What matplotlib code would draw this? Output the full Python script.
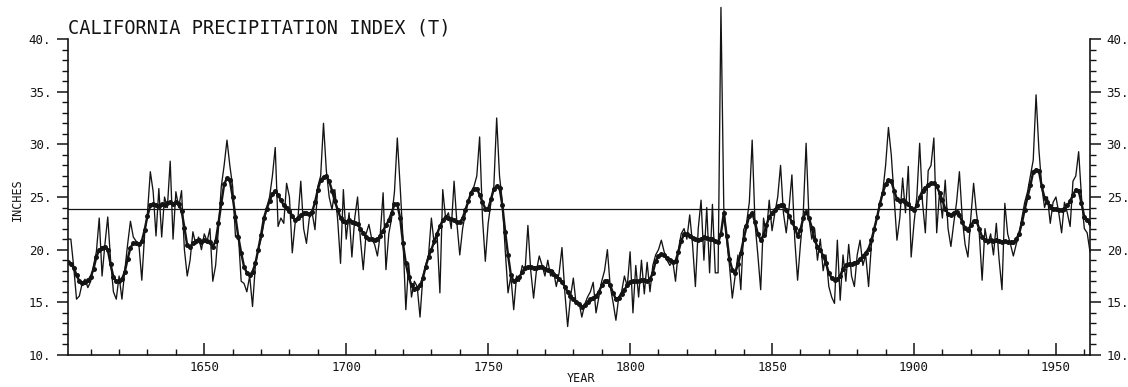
import matplotlib
matplotlib.use("Agg")
import matplotlib.pyplot as plt
from matplotlib.ticker import MultipleLocator

# ---------------- data ----------------
first_year = 1602
last_year = 1962
years = list(range(first_year, last_year + 1))

# annual index (thin line), inches
annual = [
    21.0, 21.0, 18.4, 15.3, 15.6, 16.8, 17.2, 16.4,            # 1602-1609
    17.0, 18.5, 19.8, 23.0, 17.5, 20.5, 23.1, 19.0, 16.0, 15.3,  # 1610-1619
    17.5, 15.3, 18.0, 20.5, 22.7, 21.2, 20.8, 20.4, 17.1, 21.5,  # 1620-1629
    23.5, 27.4, 25.5, 21.3, 25.8, 21.2, 25.0, 24.0, 28.4, 21.0,  # 1630-1639
    25.5, 24.0, 25.6, 20.0, 17.5, 19.0, 21.7, 20.5, 21.2, 20.0,  # 1640-1649
    21.5, 20.8, 22.0, 17.0, 18.5, 22.0, 26.0, 28.0, 30.4, 28.0,  # 1650-1659
    26.0, 21.2, 21.5, 17.0, 16.8, 16.0, 17.5, 14.6, 18.5, 20.0,  # 1660-1669
    21.0, 22.5, 24.0, 25.0, 27.0, 29.7, 22.2, 23.0, 22.5, 26.3,  # 1670-1679
    25.0, 19.7, 22.5, 23.0, 26.5, 22.0, 20.6, 23.0, 23.5, 21.9,  # 1680-1689
    26.0, 27.0, 32.0, 27.5, 25.0, 23.8, 25.7, 22.8, 18.7, 25.7,  # 1690-1699
    21.0, 23.5, 19.3, 23.0, 25.0, 21.0, 18.1, 21.5, 22.4, 21.0,  # 1700-1709
    20.5, 19.4, 21.5, 25.4, 18.1, 21.5, 23.0, 25.5, 30.6, 26.0,  # 1710-1719
    21.0, 14.3, 18.7, 15.5, 17.0, 16.5, 13.6, 17.5, 18.5, 19.5,  # 1720-1729
    23.0, 20.5, 21.5, 15.9, 25.7, 23.0, 23.5, 22.0, 26.5, 22.5,  # 1730-1739
    19.5, 22.0, 23.5, 24.5, 25.5, 26.0, 27.0, 30.7, 23.0, 18.9,  # 1740-1749
    22.5, 24.5, 26.0, 32.5, 27.0, 24.5, 20.0, 15.9, 17.5, 14.3,  # 1750-1759
    17.5, 17.0, 18.5, 18.0, 22.3, 18.0, 15.4, 18.0, 19.4, 18.5,  # 1760-1769
    17.5, 19.0, 17.5, 18.0, 16.5, 17.8, 20.2, 16.0, 12.7, 15.5,  # 1770-1779
    17.3, 14.8, 15.0, 13.6, 14.8, 15.5, 16.0, 16.9, 14.0, 15.5,  # 1780-1789
    17.0, 18.0, 20.0, 16.5, 15.0, 13.3, 15.5, 16.0, 17.5, 16.5,  # 1790-1799
    19.8, 14.0, 18.5, 15.5, 19.0, 15.8, 18.8, 16.0, 18.5, 19.5,  # 1800-1809
    20.0, 20.9, 19.8, 19.0, 18.5, 19.0, 17.0, 20.0, 21.5, 22.0,  # 1810-1819
    21.0, 23.3, 20.5, 16.5, 22.0, 24.7, 19.0, 24.0, 17.8, 24.3,  # 1820-1829
    17.8, 17.8, 43.0, 24.0, 21.0, 18.5, 15.4, 17.5, 19.5, 16.2,  # 1830-1839
    21.9, 22.5, 24.5, 30.4, 22.5, 19.5, 16.2, 23.0, 21.5, 24.7,  # 1840-1849
    21.8, 23.5, 25.0, 28.0, 23.5, 21.6, 24.0, 27.1, 21.0, 17.1,  # 1850-1859
    20.5, 23.5, 30.1, 23.0, 21.0, 22.0, 19.0, 21.0, 18.0, 19.5,  # 1860-1869
    16.5, 15.5, 14.9, 20.9, 15.2, 19.5, 17.0, 20.5, 17.5, 16.5,  # 1870-1879
    19.5, 20.9, 18.5, 19.5, 16.5, 20.5, 21.8, 23.0, 24.5, 25.5,  # 1880-1889
    28.0, 31.6, 29.0, 25.0, 20.9, 23.0, 26.8, 23.5, 27.9, 19.3,  # 1890-1899
    22.5, 25.0, 30.1, 24.5, 21.6, 27.5, 28.0, 30.6, 21.6, 25.5,  # 1900-1909
    23.0, 26.6, 22.0, 20.3, 22.5, 24.5, 27.4, 23.0, 20.5, 19.3,  # 1910-1919
    23.0, 26.3, 23.5, 21.5, 17.1, 22.0, 20.5, 21.5, 19.5, 22.5,  # 1920-1929
    19.0, 16.2, 24.4, 21.5, 20.5, 19.4, 20.5, 21.5, 23.0, 24.5,  # 1930-1939
    25.5, 27.0, 28.5, 34.7, 29.5, 26.0, 24.0, 25.0, 22.5, 24.5,  # 1940-1949
    25.0, 23.5, 21.6, 24.5, 23.5, 22.2, 26.5, 27.0, 29.3, 25.0,  # 1950-1959
    22.0, 21.6, 19.8,                                            # 1960-1962
]

# smoothed index (dotted heavy line), inches
smoothed = [
    18.8, 18.6, 18.3, 17.6, 17.0, 16.8, 16.9, 17.1,            # 1602-1609
    17.4, 18.2, 19.3, 20.0, 20.2, 20.3, 20.0, 18.6, 17.4, 17.0,  # 1610-1619
    17.0, 17.2, 17.9, 19.1, 20.2, 20.6, 20.6, 20.5, 20.8, 21.9,  # 1620-1629
    23.2, 24.2, 24.3, 24.2, 24.1, 24.3, 24.2, 24.4, 24.5, 24.3,  # 1630-1639
    24.5, 24.3, 23.7, 22.1, 20.4, 20.3, 20.6, 20.8, 20.9, 20.7,  # 1640-1649
    20.9, 20.8, 20.7, 20.3, 20.8, 22.5, 24.4, 26.2, 26.8, 26.6,  # 1650-1659
    25.0, 23.1, 21.2, 19.7, 18.4, 17.8, 17.6, 17.9, 18.7, 20.0,  # 1660-1669
    21.4, 23.0, 23.9, 24.6, 25.3, 25.6, 25.2, 24.7, 24.2, 24.0,  # 1670-1679
    23.7, 23.2, 22.8, 23.0, 23.3, 23.5, 23.5, 23.4, 23.6, 24.5,  # 1680-1689
    25.7, 26.6, 26.9, 27.0, 26.5, 25.6, 24.6, 23.8, 23.0, 22.7,  # 1690-1699
    22.6, 22.8, 22.6, 22.5, 22.4, 22.0, 21.6, 21.2, 21.0, 21.0,  # 1700-1709
    20.9, 21.0, 21.3, 21.8, 22.3, 22.8, 23.5, 24.3, 24.3, 23.0,  # 1710-1719
    20.6, 18.7, 17.4, 16.6, 16.3, 16.4, 16.6, 17.3, 18.4, 19.3,  # 1720-1729
    20.0, 20.8, 21.5, 22.2, 22.8, 23.1, 23.0, 22.9, 22.8, 22.6,  # 1730-1739
    22.6, 23.0, 23.8, 24.6, 25.4, 25.8, 25.8, 25.2, 24.5, 23.9,  # 1740-1749
    23.9, 24.8, 25.8, 26.0, 25.9, 24.2, 21.7, 19.5, 17.6, 17.0,  # 1750-1759
    17.2, 17.4, 17.9, 18.3, 18.4, 18.4, 18.3, 18.3, 18.4, 18.4,  # 1760-1769
    18.2, 18.1, 18.0, 17.7, 17.5, 17.2, 16.9, 16.5, 16.0, 15.6,  # 1770-1779
    15.3, 15.0, 14.8, 14.6, 14.7, 15.0, 15.3, 15.4, 15.6, 16.0,  # 1780-1789
    16.6, 17.0, 17.0, 16.6, 15.9, 15.3, 15.4, 15.8, 16.2, 16.6,  # 1790-1799
    16.9, 17.0, 17.0, 17.0, 17.1, 17.1, 17.0, 17.2, 17.8, 18.9,  # 1800-1809
    19.4, 19.6, 19.5, 19.2, 19.0, 18.8, 18.9, 19.8, 20.8, 21.5,  # 1810-1819
    21.5, 21.3, 21.1, 21.0, 20.9, 21.0, 21.2, 21.1, 21.0, 21.0,  # 1820-1829
    20.8, 20.7, 21.5, 23.5, 21.3, 19.1, 18.1, 17.8, 18.6, 19.7,  # 1830-1839
    21.0, 22.2, 23.2, 23.5, 22.6, 21.5, 20.9, 21.4, 22.3, 23.1,  # 1840-1849
    23.5, 23.8, 24.1, 24.2, 24.2, 23.8, 23.2, 22.6, 22.1, 21.3,  # 1850-1859
    21.9, 23.0, 23.6, 23.0, 22.1, 20.9, 20.3, 20.0, 19.4, 18.7,  # 1860-1869
    17.8, 17.3, 17.1, 17.2, 17.5, 18.2, 18.5, 18.6, 18.6, 18.7,  # 1870-1879
    18.8, 19.1, 19.4, 19.7, 20.1, 20.9, 22.0, 23.1, 24.3, 25.4,  # 1880-1889
    26.2, 26.6, 26.5, 25.6, 24.8, 24.6, 24.7, 24.5, 24.3, 24.0,  # 1890-1899
    23.8, 24.2, 25.0, 25.6, 25.9, 26.1, 26.3, 26.3, 26.0, 25.4,  # 1900-1909
    24.7, 23.9, 23.4, 23.3, 23.5, 23.6, 23.3, 22.6, 22.1, 21.9,  # 1910-1919
    22.3, 22.7, 22.7, 22.0, 21.2, 20.9, 20.8, 20.9, 20.8, 20.9,  # 1920-1929
    20.8, 20.7, 20.8, 20.7, 20.7, 20.7, 21.0, 21.5, 22.5, 23.8,  # 1930-1939
    25.0, 26.1, 27.4, 27.6, 27.5, 26.0, 24.9, 24.5, 24.1, 23.9,  # 1940-1949
    23.9, 23.8, 23.8, 23.9, 24.2, 24.6, 25.2, 25.7, 25.6, 24.4,  # 1950-1959
    23.1, 22.8, 22.5,                                            # 1960-1962
]

mean_level = 23.85

y_ticks = [10, 15, 20, 25, 30, 35, 40]
y_tick_labels = ["10.", "15.", "20.", "25.", "30.", "35.", "40."]
x_ticks = [1650, 1700, 1750, 1800, 1850, 1900, 1950]
x_tick_labels = ["1650", "1700", "1750", "1800", "1850", "1900", "1950"]

title = "CALIFORNIA PRECIPITATION INDEX (T)"
y_label = "INCHES"
x_label = "YEAR"

# ---------------- figure ----------------
FONT = "DejaVu Sans Mono"
ink = "#141414"

fig = plt.figure(figsize=(11.28, 3.87), dpi=100)
ax = fig.add_axes([68 / 1128, 1 - 355 / 387, (1090 - 68) / 1128, (355 - 39) / 387])

ax.plot(years, annual, color=ink, lw=0.95, clip_on=False, zorder=3)
ax.plot(years, smoothed, color=ink, lw=1.7, marker="o", ms=3.6,
        markeredgewidth=0, zorder=4)
ax.axhline(mean_level, color=ink, lw=0.9, zorder=2)

ax.set_xlim(1602, 1962)
ax.set_ylim(10, 40)

ax.spines["top"].set_visible(False)
for side in ["left", "right", "bottom"]:
    ax.spines[side].set_linewidth(1.2)
    ax.spines[side].set_color(ink)

ax.set_yticks(y_ticks)
ax.set_yticklabels(y_tick_labels)
ax.yaxis.set_minor_locator(MultipleLocator(1))
ax.set_xticks(x_ticks)
ax.set_xticklabels(x_tick_labels)
ax.xaxis.set_minor_locator(MultipleLocator(10))

ax.tick_params(axis="y", which="both", left=True, right=True,
               labelleft=True, labelright=True, direction="out",
               colors=ink, labelsize=9, pad=4)
ax.tick_params(axis="y", which="major", length=8, width=1.1)
ax.tick_params(axis="y", which="minor", length=4, width=1.0)
ax.tick_params(axis="x", which="both", direction="in", colors=ink,
               labelsize=9, pad=4, top=False)
ax.tick_params(axis="x", which="major", length=9, width=1.1)
ax.tick_params(axis="x", which="minor", length=4, width=1.0)

for lab in ax.get_xticklabels() + ax.get_yticklabels():
    lab.set_fontfamily(FONT)
for lab in ax.yaxis.get_ticklabels(which="major"):
    lab.set_fontfamily(FONT)

fig.text(68 / 1128, 1 - 33 / 387, title, fontfamily=FONT, fontsize=13.4,
         color=ink, ha="left", va="baseline")
fig.text(581 / 1128, 1 - 378 / 387, x_label, fontfamily=FONT, fontsize=8.5,
         color=ink, ha="center", va="center")
fig.text(17 / 1128, 1 - 200 / 387, y_label, fontfamily=FONT, fontsize=8.5,
         color=ink, rotation=90, ha="center", va="center")

fig.savefig("out.png", dpi=100, facecolor="white")
